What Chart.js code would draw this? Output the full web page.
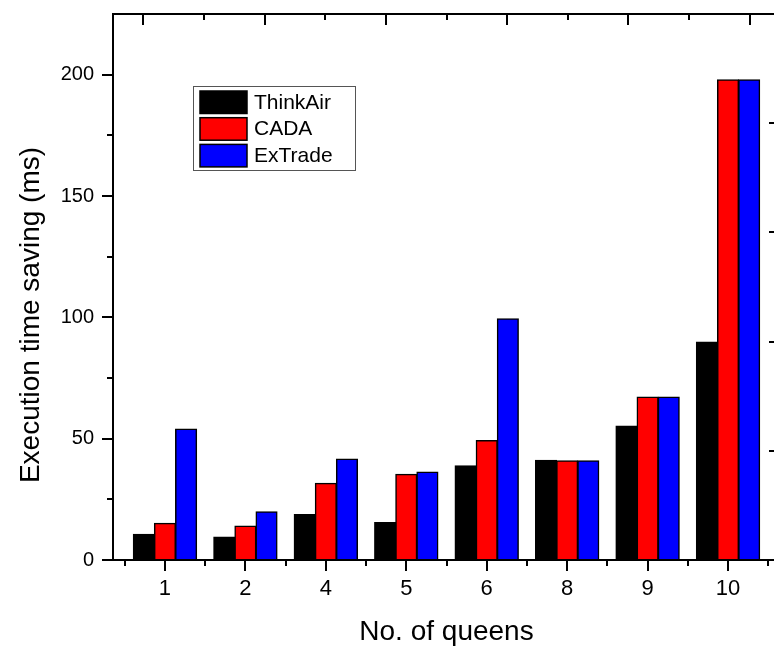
<!DOCTYPE html>
<html>
<head>
<meta charset="utf-8">
<script src="https://cdn.jsdelivr.net/npm/chart.js@4.4.0/dist/chart.umd.min.js"></script>
<style>
  html, body { margin: 0; padding: 0; background: #fff; overflow: hidden; }
  #wrap { width: 790px; height: 649px; }
</style>
</head>
<body>
<div id="wrap"><canvas id="c" width="790" height="649"></canvas></div>
<script>
// Execution time saving (ms) per board size
const categories = ['1', '2', '4', '5', '6', '8', '9', '10'];
const thinkAir = [10.6, 9.5, 18.8, 15.5, 38.8, 41.1, 55.2, 89.8];
const cada     = [15.1, 14.0, 31.6, 35.3, 49.2, 40.9, 67.2, 197.9];
const exTrade  = [54.0, 19.9, 41.6, 36.3, 99.4, 40.9, 67.2, 197.9];
const seriesNames = ['ThinkAir', 'CADA', 'ExTrade'];
const seriesColors = ['#000000', '#ff0000', '#0000ff'];
const yTicks = [0, 50, 100, 150, 200];
const yMinorTicks = [25, 75, 125, 175];

const FONT = "'Liberation Sans', Arial, Helvetica, sans-serif";

function toPoints(arr) { return arr.map((v, i) => ({ x: i, y: v })); }

const datasets = [thinkAir, cada, exTrade].map((arr, k) => ({
  label: seriesNames[k],
  data: toPoints(arr),
  backgroundColor: seriesColors[k],
  borderColor: '#000000',
  borderWidth: 1.5,
  borderSkipped: 'start',
  inflateAmount: 0.5,
  categoryPercentage: 0.788,
  barPercentage: 1.0
}));

// Frame, minor ticks, mirrored axes, titles and legend
const decorations = {
  id: 'decorations',
  afterDraw(chart) {
    const ctx = chart.ctx;
    const a = chart.chartArea;
    const xs = chart.scales.x, ys = chart.scales.y;
    const xt = chart.scales.xTop, yr = chart.scales.yRight;
    const topX = v => (xt && xt.width > 0) ? xt.getPixelForValue(v) : a.left + (a.right - a.left) * v / 5;
    const rightY = v => (yr && yr.height > 0) ? yr.getPixelForValue(v) : a.bottom - (a.bottom - a.top) * v / 5;

    ctx.save();
    ctx.strokeStyle = '#000';
    ctx.lineWidth = 2;
    ctx.lineCap = 'butt';

    // top and right frame lines
    ctx.beginPath();
    ctx.moveTo(a.left - 1, a.top);
    ctx.lineTo(a.right + 1, a.top);
    ctx.moveTo(a.right, a.top);
    ctx.lineTo(a.right, a.bottom);
    ctx.stroke();

    // left minor ticks (outward)
    ctx.beginPath();
    yMinorTicks.forEach(v => {
      const y = Math.round(ys.getPixelForValue(v));
      ctx.moveTo(a.left, y);
      ctx.lineTo(a.left - 6, y);
    });
    // bottom minor ticks between categories (outward)
    for (let i = -1; i < categories.length; i++) {
      const x = Math.round(xs.getPixelForValue(i + 0.5));
      ctx.moveTo(x, a.bottom);
      ctx.lineTo(x, a.bottom + 6);
    }
    // top ticks (inward)
    for (let k = 0; k <= 5; k++) {
      const x = Math.round(topX(k));
      ctx.moveTo(x, a.top);
      ctx.lineTo(x, a.top + 11);
      if (k < 5) {
        const xm = Math.round(topX(k + 0.5));
        ctx.moveTo(xm, a.top);
        ctx.lineTo(xm, a.top + 6);
      }
    }
    // right ticks (inward)
    for (let k = 0; k <= 5; k++) {
      const y = Math.round(rightY(k));
      ctx.moveTo(a.right, y);
      ctx.lineTo(a.right - 11, y);
      if (k < 5) {
        const ym = Math.round(rightY(k + 0.5));
        ctx.moveTo(a.right, ym);
        ctx.lineTo(a.right - 6, ym);
      }
    }
    ctx.stroke();

    // axis titles
    ctx.fillStyle = '#000';
    ctx.font = '28px ' + FONT;
    ctx.textAlign = 'center';
    ctx.textBaseline = 'middle';
    ctx.fillText('No. of queens', (a.left + a.right) / 2, 632);
    ctx.save();
    ctx.translate(31, 315);
    ctx.rotate(-Math.PI / 2);
    ctx.fillText('Execution time saving (ms)', 0, 0);
    ctx.restore();

    // legend
    const lx = a.left + 80, ly = a.top + 72, lw = 162, lh = 84;
    ctx.fillStyle = '#fff';
    ctx.fillRect(lx, ly, lw, lh);
    ctx.strokeStyle = '#555';
    ctx.lineWidth = 1;
    ctx.strokeRect(lx + 0.5, ly + 0.5, lw, lh);
    ctx.font = '21px ' + FONT;
    ctx.textAlign = 'left';
    ctx.textBaseline = 'middle';
    chart.data.datasets.forEach((ds, k) => {
      const sy = ly + 5 + k * 26.7;
      ctx.fillStyle = ds.backgroundColor;
      ctx.fillRect(lx + 7, sy, 47, 22.5);
      ctx.strokeStyle = '#000';
      ctx.lineWidth = 1.5;
      ctx.strokeRect(lx + 7, sy, 47, 22.5);
      ctx.fillStyle = '#000';
      ctx.fillText(ds.label, lx + 61, sy + 12);
    });
    ctx.restore();
  }
};

new Chart(document.getElementById('c'), {
  type: 'bar',
  data: { datasets },
  options: {
    responsive: false,
    devicePixelRatio: 1,
    animation: false,
    events: [],
    layout: { padding: { left: 0, top: 14, right: 10, bottom: 0 } },
    plugins: { legend: { display: false }, tooltip: { enabled: false }, title: { display: false } },
    scales: {
      x: {
        type: 'linear',
        position: 'bottom',
        offset: false,
        min: -0.646,
        max: categories.length - 1 + 0.646,
        afterBuildTicks: s => { s.ticks = categories.map((c, i) => ({ value: i })); },
        afterFit: s => { s.height = 89; s.paddingLeft = 0; s.paddingRight = 0; },
        ticks: {
          color: '#000',
          font: { family: FONT, size: 22 },
          padding: 5,
          maxRotation: 0,
          autoSkip: false,
          callback: v => categories[v]
        },
        grid: { offset: false, drawOnChartArea: false, drawTicks: true, tickLength: 11, color: '#000', lineWidth: 2 },
        border: { display: true, color: '#000', width: 2 }
      },
      y: {
        type: 'linear',
        position: 'left',
        min: 0,
        max: 225,
        afterBuildTicks: s => { s.ticks = yTicks.map(v => ({ value: v })); },
        afterFit: s => { s.width = 113; s.paddingTop = 0; s.paddingBottom = 0; },
        ticks: { color: '#000', font: { family: FONT, size: 20 }, padding: 8 },
        grid: { drawOnChartArea: false, drawTicks: true, tickLength: 11, color: '#000', lineWidth: 2 },
        border: { display: true, color: '#000', width: 2 }
      },
      xTop: { type: 'linear', position: 'top', display: false, min: 0, max: 5 },
      yRight: { type: 'linear', position: 'right', display: false, min: 0, max: 5 }
    }
  },
  plugins: [decorations]
});
</script>
</body>
</html>
